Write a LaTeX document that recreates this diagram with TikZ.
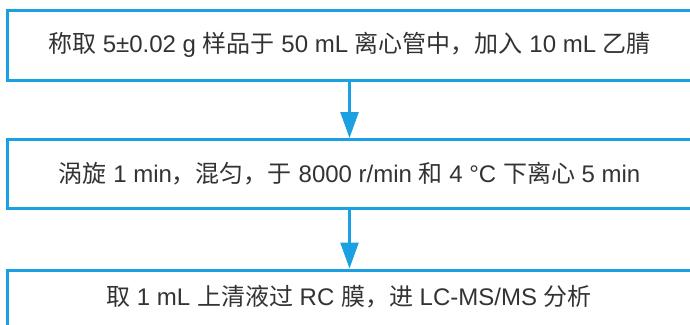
\documentclass[tikz,border=0pt]{standalone}
\usepackage{fontspec}
\setmainfont{Liberation Sans}
\newfontfamily\cjk{Noto Sans CJK SC}
\usetikzlibrary{arrows.meta}
\definecolor{boxblue}{HTML}{1BA1E2}
\definecolor{txtgrey}{HTML}{333333}
\tikzset{
  stepbox/.style={draw=boxblue, line width=3pt, minimum width=684pt, inner sep=0pt,
    text=txtgrey, font=\fontsize{24}{28}\selectfont},
  steptext/.style={inner sep=0pt, text=txtgrey, font=\fontsize{24}{28}\selectfont},
  flowarrow/.style={draw=boxblue, line width=2.5pt, -{Triangle[length=26pt,width=18pt]}}
}
\begin{document}
\begin{tikzpicture}[x=1pt,y=-1pt]
\useasboundingbox (0,0) rectangle (690,324);
\node[stepbox, minimum height=69.5pt] (b1) at (349.5,45.25)
  {{\cjk 称取} 5±0.02 g {\cjk 样品于} 50 mL {\cjk 离心管中，加入} 10 mL {\cjk 乙腈}};
\node[stepbox, minimum height=69pt] (b2) at (349.5,174)
  {{\cjk 涡旋} 1 min{\cjk ，混匀，于} 8000 r/min {\cjk 和} 4 °C {\cjk 下离心} 5 min};
\node[stepbox, minimum height=70pt] (b3) at (349.5,305) {};
\node[steptext] (t3) at (349,297)
  {{\cjk 取} 1 mL {\cjk 上清液过} RC {\cjk 膜，进} LC-MS/MS {\cjk 分析}};
\draw[flowarrow] (b1.south) -- (b2.north);
\draw[flowarrow] (b2.south) -- (b3.north);
\end{tikzpicture}
\end{document}
